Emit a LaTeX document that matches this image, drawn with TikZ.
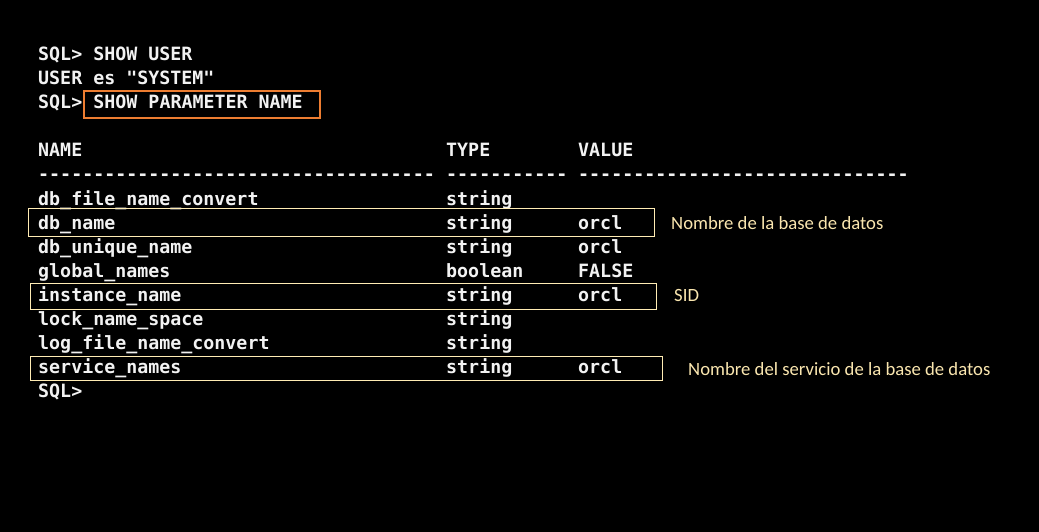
\documentclass[tikz,border=0pt]{standalone}
\usepackage{fontspec}
\newfontfamily\mono{DejaVu Sans Mono}
\newfontfamily\calib{Carlito}
\definecolor{termfg}{RGB}{242,242,242}
\definecolor{hilite}{RGB}{237,125,49}
\definecolor{cream}{RGB}{255,236,180}
\definecolor{notefg}{RGB}{250,230,175}
\newcommand\dashrow[1]{\foreach\i in {1,...,#1}{-}}
\tikzset{
  term/.style={anchor=base west, inner sep=0pt, text=termfg,
    font=\mono\bfseries\fontsize{18.3}{20}\selectfont},
  note/.style={anchor=base west, inner sep=0pt, text=notefg,
    font=\calib\fontsize{18.7}{20}\selectfont},
  rowbox/.style={draw=cream, line width=1pt},
  cmdbox/.style={draw=hilite, line width=2pt}
}
\begin{document}
\begin{tikzpicture}[x=1pt,y=-1pt]
\fill[black] (0,0) rectangle (1039,532);
\useasboundingbox (0,0) rectangle (1039,532);
% header lines
\node[term] (l1) at (38,61) {SQL> SHOW USER};
\node[term] (l2) at (38,85) {USER es "SYSTEM"};
\node[term] (l3) at (38,109) {SQL>};
\node[term] (l3b) at (93.2,109) {SHOW PARAMETER NAME};
\draw[cmdbox] (84,91) rectangle (320,118);
% column headers
\node[term] (hn) at (38,157) {NAME};
\node[term] (ht) at (446,157) {TYPE};
\node[term] (hv) at (578,157) {VALUE};
\node[term] (dn) at (38,181) {\dashrow{36}};
\node[term] (dt) at (446,181) {\dashrow{11}};
\node[term] (dv) at (578,181) {\dashrow{30}};
% rows
\node[term] (r1n) at (38,205) {db\_file\_name\_convert};
\node[term] (r1t) at (446,205) {string};
\node[term] (r2n) at (38,229) {db\_name};
\node[term] (r2t) at (446,229) {string};
\node[term] (r2v) at (578,229) {orcl};
\node[term] (r3n) at (38,253) {db\_unique\_name};
\node[term] (r3t) at (446,253) {string};
\node[term] (r3v) at (578,253) {orcl};
\node[term] (r4n) at (38,277) {global\_names};
\node[term] (r4t) at (446,277) {boolean};
\node[term] (r4v) at (578,277) {FALSE};
\node[term] (r5n) at (38,301) {instance\_name};
\node[term] (r5t) at (446,301) {string};
\node[term] (r5v) at (578,301) {orcl};
\node[term] (r6n) at (38,325) {lock\_name\_space};
\node[term] (r6t) at (446,325) {string};
\node[term] (r7n) at (38,349) {log\_file\_name\_convert};
\node[term] (r7t) at (446,349) {string};
\node[term] (r8n) at (38,373) {service\_names};
\node[term] (r8t) at (446,373) {string};
\node[term] (r8v) at (578,373) {orcl};
\node[term] (r9) at (38,397) {SQL>};
% highlight boxes
\draw[rowbox] (28,208.5) rectangle (654,236.5);
\draw[rowbox] (30.5,283.5) rectangle (656.5,309.5);
\draw[rowbox] (30.5,356.5) rectangle (662.5,380.5);
% notes
\node[note] (n1) at (671,229) {Nombre de la base de datos};
\node[note] (n2) at (674,301) {SID};
\node[note] (n3) at (688,375) {Nombre del servicio de la base de datos};
\end{tikzpicture}
\end{document}
